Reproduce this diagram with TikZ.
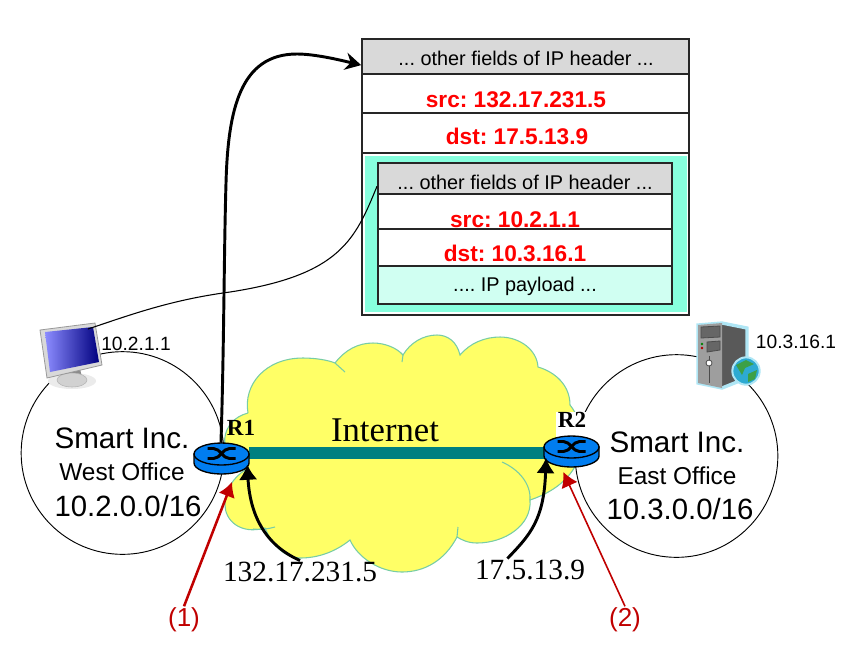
\documentclass[tikz,border=0pt]{standalone}
\usepackage{fontspec}
\setmainfont{Liberation Sans}
\newfontfamily\timesfont{Liberation Serif}
\usepackage{tikz}
\usetikzlibrary{shapes.geometric}
\usetikzlibrary{arrows.meta}
\definecolor{cloudfill}{RGB}{255,255,102}
\definecolor{cloudedge}{RGB}{120,205,165}
\definecolor{linkteal}{RGB}{0,128,128}
\definecolor{routerblue}{RGB}{0,125,240}
\definecolor{tunnelfill}{RGB}{135,255,222}
\definecolor{payloadfill}{RGB}{208,255,242}
\definecolor{hdrgray}{RGB}{217,217,217}
\definecolor{arrowred}{RGB}{192,0,0}
\definecolor{fieldred}{RGB}{255,0,0}
\definecolor{haloblue}{RGB}{175,230,245}
\definecolor{globeblue}{RGB}{45,170,210}
\definecolor{globegreen}{RGB}{60,160,70}
\def\fs#1{\fontsize{#1}{#1}\selectfont}
\tikzset{
  site/.style={circle,draw=black,line width=0.7pt,fill=white,minimum size=152pt,inner sep=0pt},
  fieldbox/.style={rectangle,draw=black!85,line width=1.5pt,inner sep=0pt},
  hdrtext/.style={inner sep=0pt,font=\fs{14.9}},
  fieldtext/.style={inner sep=0pt,text=fieldred,font=\fs{17}\bfseries},
  addr/.style={inner sep=1pt,font=\timesfont\fs{22}},
  rname/.style={inner sep=1pt,font=\timesfont\fs{17.3}\bfseries},
  hostip/.style={inner sep=0pt,font=\fs{14.4}},
  steplabel/.style={inner sep=1pt,text=arrowred,font=\fs{19.5}},
  bigarrow/.style={-{Latex[length=11.5pt,width=14pt]},line width=2.2pt,black},
  redarrow/.style={-{Latex[length=11pt,width=13pt]},arrowred}
}
\newcommand{\routericon}[3]{
  \begin{scope}[shift={(#2,#3)}]
    \draw[line width=1pt,fill=routerblue] (-27.5,-4.5) to (-27.5,4.5) arc[start angle=180,end angle=0,x radius=27.5,y radius=11] to (27.5,-4.5) -- cycle;
    \draw[line width=1pt,fill=routerblue] (0,-4.5) ellipse[x radius=27.5,y radius=11];
    \draw[line width=2.2pt,black] (-14,-10) to (-8,-10) .. controls (-1,-10) and (1,0) .. (8,0) to (14,0);
    \draw[line width=2.2pt,black] (-14,0) to (-8,0) .. controls (-1,0) and (1,-10) .. (8,-10) to (14,-10);
    \node[ellipse,inner sep=0pt,minimum width=41.25pt,minimum height=23.25pt] (#1) at (0,0) {};
  \end{scope}
}
\begin{document}
\frenchspacing
\begin{tikzpicture}[x=0.75pt,y=-0.75pt]
    \useasboundingbox (0,0) rectangle (848,651);
    % Cloud
    \draw[line width=0.8pt,draw=cloudedge,fill=cloudfill] (248,413)
      .. controls (243,385) and (265,358) .. (303,358) .. controls (315,358) and (328,360) .. (335,363)
      .. controls (345,350) and (358,343) .. (373,343) .. controls (385,343) and (397,348) .. (403,355)
      .. controls (410,343) and (423,335) .. (437,335) .. controls (448,335) and (457,342) .. (460,355)
      .. controls (470,343) and (485,337) .. (500,337) .. controls (520,337) and (537,350) .. (538,367)
      .. controls (555,372) and (570,385) .. (570,405) .. controls (590,430) and (590,480) .. (530,500)
      .. controls (532,525) and (505,543) .. (477,543) .. controls (468,543) and (462,540) .. (457,537)
      .. controls (445,560) and (425,572) .. (402,572) .. controls (380,572) and (358,558) .. (350,540)
      .. controls (335,552) and (318,558) .. (300,558) .. controls (285,558) and (272,545) .. (265,528)
      .. controls (240,535) and (225,520) .. (225,505) .. controls (225,490) and (233,478) .. (245,470)
      .. controls (215,455) and (220,420) .. (248,413);
    % Cloud inner lines
    \draw[line width=0.8pt,cloudedge] (335,363) to (345,372);
    \draw[line width=0.8pt,cloudedge] (403,355) to (402,362);
    \draw[line width=0.8pt,cloudedge] (530,500) .. controls (531,483) and (518,469) .. (502,462);
    \draw[line width=0.8pt,cloudedge] (457,537) to (458,527);
    \draw[line width=0.8pt,cloudedge] (253,529) .. controls (260,530) and (268,529) .. (275,527);
    % Offices
    \node[site] (west) at (122.5,453) {};
    \node[site] (east) at (676.5,456) {};
    \node[inner sep=0pt,align=center] (westa) at (122,438) {\fs{22.2}Smart Inc.};
    \node[inner sep=0pt] (westb) at (122,472) {\fs{18.3}West Office};
    \node[inner sep=0pt] (westc) at (128,506) {\fs{22}10.2.0.0/16};
    \node[inner sep=0pt] (easta) at (677,442) {\fs{22.2}Smart Inc.};
    \node[inner sep=0pt] (eastb) at (677,476) {\fs{18.3}East Office};
    \node[inner sep=0pt] (eastc) at (680,509) {\fs{22}10.3.0.0/16};
    % Link
    \node[rectangle,fill=linkteal,inner sep=0pt,minimum width=222pt,minimum height=9pt] (link) at (397,453) {};
    \node[inner sep=0pt,font=\timesfont\fs{26}] (inet) at (385,430) {Internet};
    % Routers
    \node[rname,anchor=base,fill=white,text height=11pt,text depth=6pt,minimum width=24pt] (r2name) at (572,427.5) {R2};
    \routericon{r1}{221.5}{458.5}
    \routericon{r2}{571.5}{451.5}
    \node[rname] (r1name) at (241,428) {R1};
    % Outer packet
    \node[fieldbox,fill=white,minimum width=245pt,minimum height=207pt] (pkt) at (525.5,177) {};
    \node[rectangle,fill=tunnelfill,inner sep=0pt,minimum width=241pt,minimum height=117pt] (tunnel) at (526,234) {};
    \node[fieldbox,fill=hdrgray,minimum width=245pt,minimum height=26.25pt] (hdra) at (525.5,56.5) {};
    \node[fieldbox,minimum width=245pt,minimum height=29.25pt] (srca) at (525.5,93.5) {};
    \node[fieldbox,minimum width=245pt,minimum height=30pt] (dsta) at (525.5,133) {};
    \node[hdrtext] (hdratext) at (526,58) {... other fields of IP header ...};
    \node[fieldtext] (srcatext) at (516,100) {src: 132.17.231.5};
    \node[fieldtext] (dstatext) at (517,136) {dst: 17.5.13.9};
    % Inner packet
    \node[fieldbox,fill=hdrgray,minimum width=220.5pt,minimum height=23.25pt] (hdrb) at (525,178.5) {};
    \node[fieldbox,fill=white,minimum width=220.5pt,minimum height=26.25pt] (srcb) at (525,211.5) {};
    \node[fieldbox,fill=white,minimum width=220.5pt,minimum height=27.75pt] (dstb) at (525,247.5) {};
    \node[fieldbox,fill=payloadfill,minimum width=220.5pt,minimum height=28.5pt] (payb) at (525,285) {};
    \node[hdrtext] (hdrbtext) at (525,182) {... other fields of IP header ...};
    \node[fieldtext] (srcbtext) at (515,220) {src: 10.2.1.1};
    \node[fieldtext] (dstbtext) at (515,253) {dst: 10.3.16.1};
    \node[hdrtext] (paybtext) at (525,286) {.... IP payload ...};
    % Computer
    \fill[black!8] (72,381) ellipse[x radius=24,y radius=8];
    \fill[black!45] (64,372) to (80,368) to (82,378) to (66,380) -- cycle;
    \draw[black!30,fill=black!18] (72,380) ellipse[x radius=15,y radius=7];
    \draw[black!40,fill=black!15,line width=0.6pt] (40,330) to (95,323) to (102,365) to (47,378) -- cycle;
    \shade[left color=blue!45!white,right color=blue!50!black] (45,332) to (93,327) to (99,362) to (50,372) -- cycle;
    \coordinate (pc) at (88,329);
    \node[hostip] (pcip) at (136,344) {10.2.1.1};
    % Server
    \draw[haloblue,line width=2.5pt,fill=black!65] (698,325) to (722,323) to (747,328) to (747,378) to (722,388) to (698,383) -- cycle;
    \fill[black!38] (698,325) to (722,323) to (722,388) to (698,383) -- cycle;
    \draw[black!70,line width=0.6pt,fill=black!60] (701,327) to (720,326) to (720,337) to (701,338) -- cycle;
    \draw[black!70,line width=0.6pt,fill=black!60] (707,342) to (720,341) to (720,350) to (707,352) -- cycle;
    \fill[red!70!black] (702,348) circle (1.3);
    \fill[green!50!black] (702,344) circle (1.3);
    \draw[black!70,line width=0.6pt] (709,356) to (709,383);
    \draw[black!70,line width=0.6pt,fill=white] (709,363) circle (3);
    \node[circle,draw=haloblue,line width=1.5pt,fill=globeblue,inner sep=0pt,minimum size=20.5pt] (globe) at (746,371) {};
    \fill[globegreen] (736,365) to (746,360) to (754,364) to (745,368) to (742,375) -- cycle;
    \fill[globegreen] (748,374) to (757,370) to (755,379) to (748,382) -- cycle;
    \node[hostip] (srvip) at (796,342) {10.3.16.1};
    % Connectors
    \draw[-{Stealth[length=12pt,width=13pt]},line width=2.2pt,black] (r1.92) .. controls (224,350) and (224,250) .. (226,183) .. controls (228,110) and (240,54) .. (297,54) .. controls (315,54) and (340,60) .. (hdra.183);
    \draw[line width=0.8pt,black] (hdrb.183) .. controls (355,240) and (340,275) .. (230,292) .. controls (170,300) and (130,315) .. (pc);
    \node[addr] (addra) at (300,572) {132.17.231.5};
    \node[addr] (addrb) at (530,570) {17.5.13.9};
    \draw[bigarrow] (addra.north) .. controls (265,545) and (250,515) .. (r1.-13);
    \draw[bigarrow] (addrb.153) .. controls (530,535) and (544,520) .. (r2.194);
    \node[steplabel] (stepa) at (184,620) {(1)};
    \node[steplabel] (stepb) at (625,620) {(2)};
    \draw[redarrow,line width=1.9pt,shorten >=8pt] (stepa.north) to (r1.-43);
    \draw[redarrow,line width=1.2pt,shorten >=5pt] (stepb.north) to (r2.233);
\end{tikzpicture}
\end{document}
